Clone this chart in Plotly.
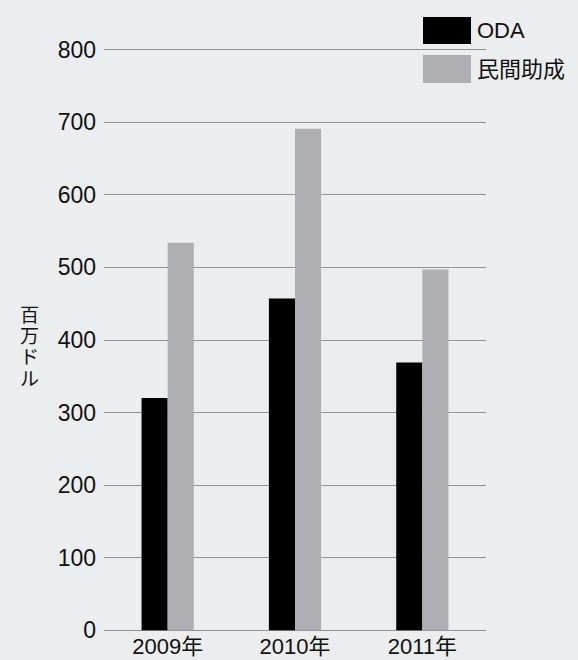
import plotly.graph_objects as go

years = ["2009年", "2010年", "2011年"]
oda = [320, 457, 369]
private = [534, 691, 497]
series_names = ["ODA", "民間助成"]
y_title = "百万ドル"

BG = "#ecedef"
BLACK = "#000000"
GRAY = "#afaeb3"
GRID = "#939393"
FONT = "Liberation Sans, Arial, Noto Sans CJK JP, sans-serif"

W, H = 578, 660
L, R, T, B = 104, 92, 46, 26
PW, PH = W - L - R, H - T - B

fig = go.Figure()
fig.add_trace(go.Bar(x=years, y=oda, name=series_names[0], marker=dict(color=BLACK, line=dict(width=0)), showlegend=False))
fig.add_trace(go.Bar(x=years, y=private, name=series_names[1], marker=dict(color=GRAY, line=dict(width=0)), showlegend=False))

fig.update_layout(
    width=W, height=H,
    paper_bgcolor=BG, plot_bgcolor=BG,
    margin=dict(l=L, r=R, t=T, b=B, autoexpand=False),
    barmode="group", bargap=0.59, bargroupgap=0,
    font=dict(family=FONT, size=23, color="#111111"),
    xaxis=dict(showgrid=False, zeroline=False, showline=False, ticks="", automargin=False,
               tickfont=dict(size=22), ticklabelstandoff=-3),
    yaxis=dict(range=[-5, 805], tickvals=[0, 100, 200, 300, 400, 500, 600, 700, 800],
               showgrid=True, gridcolor=GRID, gridwidth=1.2, zeroline=False, showline=False,
               ticks="", ticklabelstandoff=7, tickfont=dict(size=23), automargin=False),
)

def px_x(x):
    return (x - L) / PW

def px_y(y):
    return (H - B - y) / PH

# y-axis title, stacked vertical characters (tight, as in the reference)
for i, ch in enumerate(y_title):
    fig.add_annotation(xref="paper", yref="paper", x=px_x(29), y=px_y(313 + i * 21.4),
                       xanchor="center", yanchor="middle", text=ch, showarrow=False,
                       font=dict(size=19, family="Noto Sans CJK JP"))

# custom legend (large swatches)
legend_items = [(series_names[0], BLACK, 17, 44), (series_names[1], GRAY, 55, 83)]
for name, color, y0, y1 in legend_items:
    fig.add_shape(type="rect", xref="paper", yref="paper",
                  x0=px_x(423), x1=px_x(471), y0=px_y(y1), y1=px_y(y0),
                  fillcolor=color, line=dict(width=0), layer="above")
    fig.add_annotation(xref="paper", yref="paper", x=px_x(475),
                       y=px_y((y0 + y1) / 2), xanchor="left", yanchor="middle",
                       text=name, showarrow=False, font=dict(size=22))

fig.write_html("out.html", config={"displayModeBar": False},
               post_script="document.body.style.margin='0';document.body.style.background='%s';" % BG)
